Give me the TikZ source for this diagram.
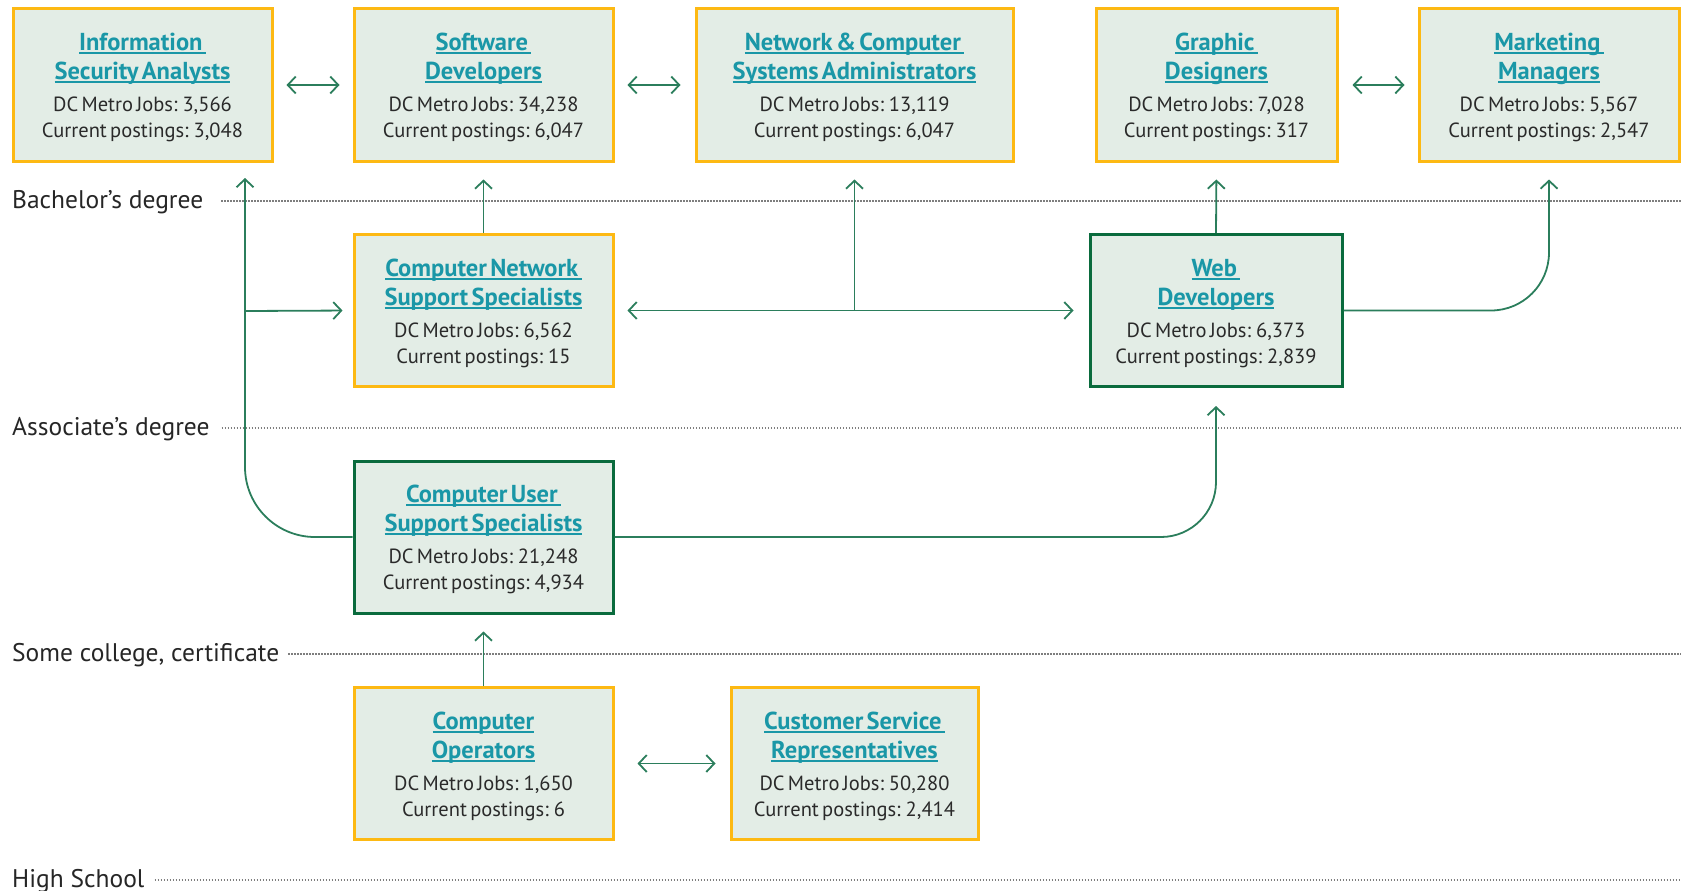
\documentclass[tikz,border=0pt]{standalone}
\usepackage{fontspec}
\setmainfont{PT Sans}
\usetikzlibrary{arrows.meta}

\definecolor{boxfill}{HTML}{E3EDE6}
\definecolor{gold}{HTML}{FDB913}
\definecolor{dkgreen}{HTML}{0A6B3D}
\definecolor{linkgreen}{HTML}{2B7E5C}
\definecolor{titleteal}{HTML}{1A97A7}
\definecolor{bodytext}{HTML}{2A2A2A}
\definecolor{dotgray}{HTML}{7E7E7E}

\newcommand\titlefont{\fontsize{24.5}{29}\selectfont\bfseries\color{titleteal}}
\newcommand\bodyfont{\fontsize{20.5}{26}\selectfont\color{bodytext}}
\newcommand\ulined[1]{\leavevmode\setbox0=\hbox{#1}\rlap{\color{titleteal}\rule[-3.5pt]{\wd0}{1.6pt}}\box0}
% the zero-width rule on the first line gives every box the same top margin
\newcommand\jobtext[4]{{\titlefont\rule{0pt}{22.5pt}\ulined{#1}\par\ulined{#2}\par}\vspace{6pt}{\bodyfont #3\par #4\par}}

\begin{document}
\begin{tikzpicture}[x=1pt,y=-1pt,
  job/.style={draw=gold, line width=3pt, fill=boxfill, inner sep=0pt,
    text width=240pt, align=center, minimum height=152pt},
  entry/.style={job, draw=dkgreen},
  conn/.style={draw=linkgreen, line width=1.8pt},
  >={Straight Barb[length=8pt,width=17pt]},
  lvl/.style={anchor=base west, inner sep=0pt, font=\fontsize{25.5}{28}\selectfont, text=black!85},
  level/.style={draw=dotgray, line width=2.2pt, dash pattern=on 1.7pt off 1.3pt}]
\useasboundingbox (0,0) rectangle (1681,891);

% education levels
\node[lvl] (bach) at (12,208) {Bachelor’s degree};
\node[lvl] (assoc) at (12,435) {Associate’s degree};
\node[lvl] (some) at (12,661) {Some college, certificate};
\node[lvl] (hs) at (12,887) {High School};
\coordinate (bachR) at (1681,201);
\coordinate (assocR) at (1681,428);
\coordinate (someR) at (1681,654);
\coordinate (hsR) at (1681,880);
\draw[level] ([xshift=18pt]bach.east |- bachR) -- (bachR);
\draw[level] ([xshift=12pt]assoc.east |- assocR) -- (assocR);
\draw[level] ([xshift=9pt]some.east |- someR) -- (someR);
\draw[level] ([xshift=10pt]hs.east |- hsR) -- (hsR);

% occupations
\node[job, minimum width=259pt] (info) at (142.5,85)
  {\jobtext{Information\ }{Security Analysts}{DC Metro Jobs: 3,566}{Current postings: 3,048}};
\node[job, minimum width=259pt] (soft) at (483.5,85)
  {\jobtext{Software\ }{Developers}{DC Metro Jobs: 34,238}{Current postings: 6,047}};
\node[job, minimum width=317pt, text width=300pt] (netw) at (854.5,85)
  {\jobtext{Network \& Computer\ }{Systems Administrators}{DC Metro Jobs: 13,119}{Current postings: 6,047}};
\node[job, minimum width=241pt, text width=230pt] (graph) at (1216.5,85)
  {\jobtext{Graphic\ }{Designers}{DC Metro Jobs: 7,028}{Current postings: 317}};
\node[job, minimum width=260pt] (mark) at (1549,85)
  {\jobtext{Marketing\ }{Managers}{DC Metro Jobs: 5,567}{Current postings: 2,547}};

\node[job, minimum width=259pt] (cnss) at (483.5,310.5)
  {\jobtext{Computer Network\ }{Support Specialists}{DC Metro Jobs: 6,562}{Current postings: 15}};
\node[entry, minimum width=252pt] (web) at (1216,310.5)
  {\jobtext{Web\ }{Developers}{DC Metro Jobs: 6,373}{Current postings: 2,839}};

\node[entry, minimum width=259pt] (cuss) at (483.5,537)
  {\jobtext{Computer User\ }{Support Specialists}{DC Metro Jobs: 21,248}{Current postings: 4,934}};

\node[job, minimum width=259pt] (cops) at (483.5,763.5)
  {\jobtext{Computer}{Operators}{DC Metro Jobs: 1,650}{Current postings: 6}};
\node[job, minimum width=247pt, text width=240pt] (csr) at (854.5,763.5)
  {\jobtext{Customer Service\ }{Representatives}{DC Metro Jobs: 50,280}{Current postings: 2,414}};

% lateral moves
\draw[conn,<->,shorten <=13pt,shorten >=13pt] (info) -- (soft);
\draw[conn,<->,shorten <=13pt,shorten >=14pt] (soft) -- (netw);
\draw[conn,<->,shorten <=14pt,shorten >=13pt] (graph) -- (mark);
\draw[conn,<->,shorten <=23pt,shorten >=14pt] (cops) -- (csr);

% upward paths
\coordinate (leftup) at (245,178);
\coordinate (leftbr) at (245,311);
\draw[conn,->,rounded corners=70pt] (cuss.west) -| (leftup);
\draw[conn,->,shorten >=10pt] (leftbr) -- (cnss.west);
\draw[conn,->,shorten >=17pt] (cnss.north) -- (soft.south);
\draw[conn,<->,shorten <=13pt,shorten >=15pt] (cnss.east) -- (web.west);
\draw[conn,->,shorten >=17pt] (netw.south |- cnss.east) -- (netw.south);
\draw[conn,->,shorten >=17pt] (web.north) -- (graph.south);
\draw[conn,->,rounded corners=58pt] (web.east) -| ([yshift=-17pt]mark.south);
\draw[conn,->,rounded corners=55pt] (cuss.east) -| ([yshift=-18pt]web.south);
\draw[conn,->,shorten >=17pt] (cops.north) -- (cuss.south);
\end{tikzpicture}
\end{document}
